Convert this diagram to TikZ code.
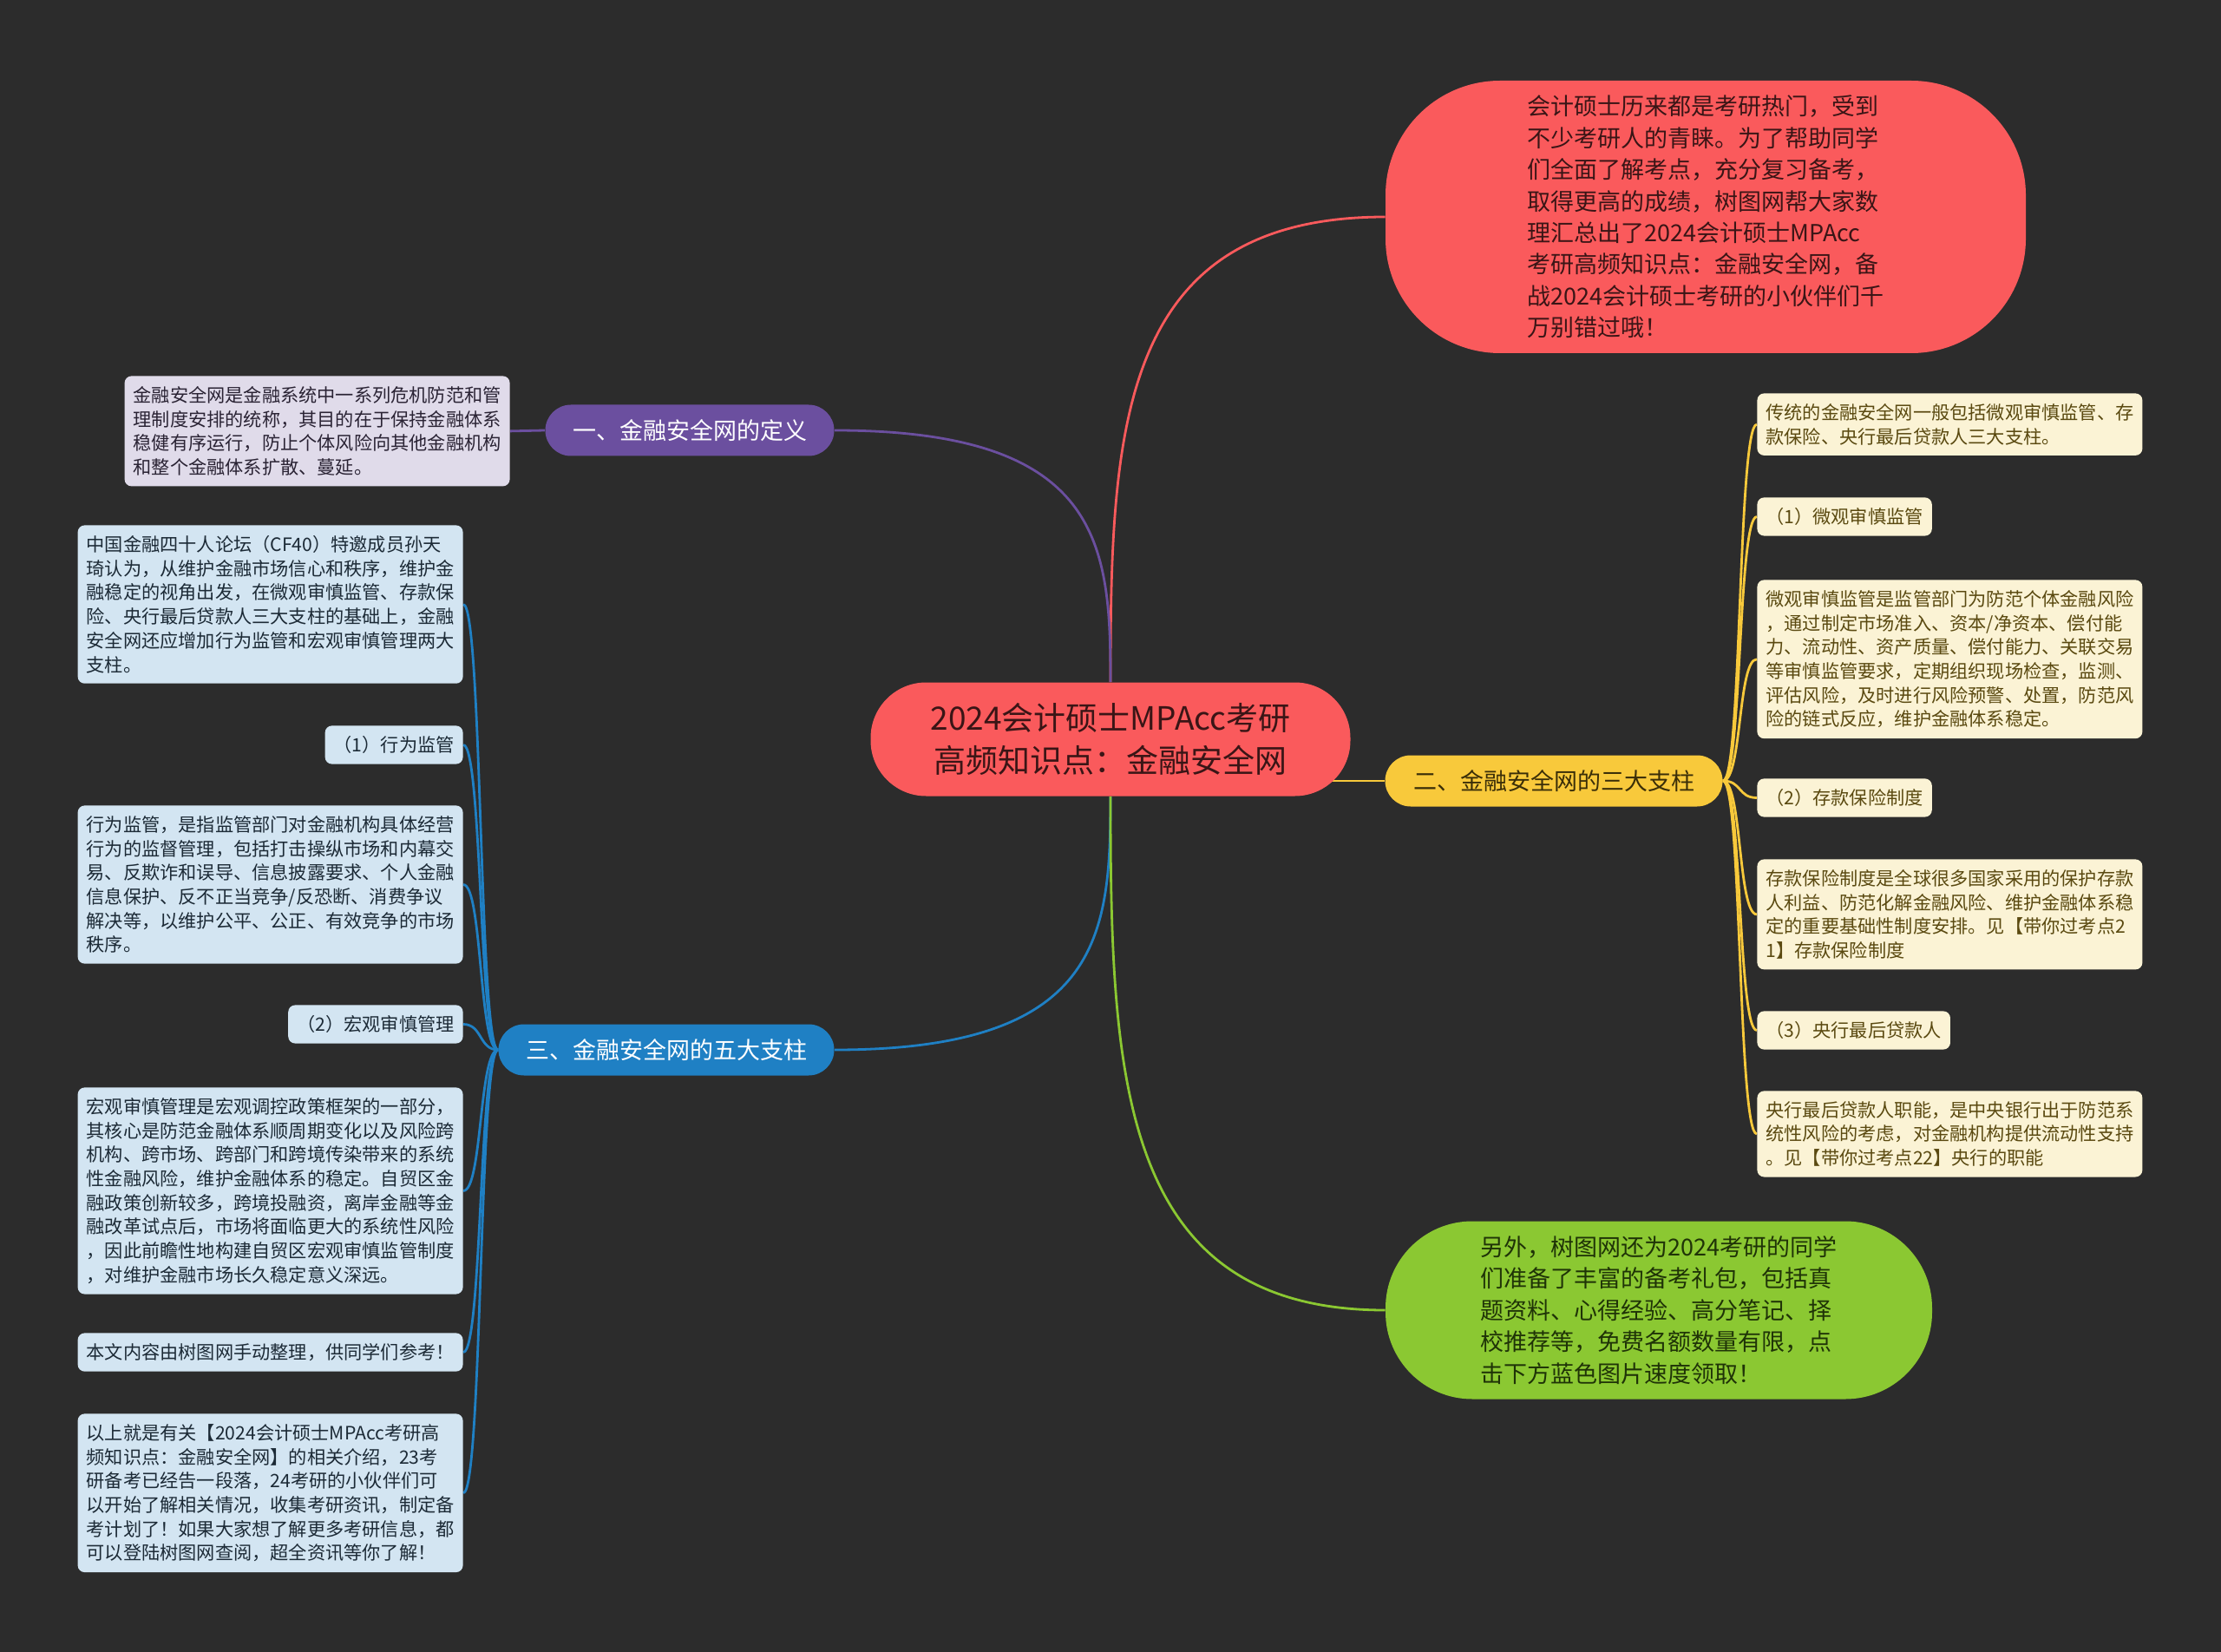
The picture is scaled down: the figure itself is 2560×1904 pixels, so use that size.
\documentclass[tikz,border=0pt]{standalone}
\usepackage{fontspec}
\setmainfont{Noto Sans CJK SC}
\usepackage{xcolor}
\usepackage{tikz}
\pgfdeclarelayer{bg}
\pgfsetlayers{bg,main}
\definecolor{canvas}{HTML}{2C2C2C}
\definecolor{rootred}{HTML}{FA5A5C}
\definecolor{rootink}{HTML}{3A1516}
\definecolor{violet1}{HTML}{6B4F9F}
\definecolor{gold1}{HTML}{F8C93B}
\definecolor{goldink}{HTML}{3A2E08}
\definecolor{azure1}{HTML}{1F80C4}
\definecolor{lime1}{HTML}{8BC832}
\definecolor{limeink}{HTML}{1F3307}
\definecolor{goldleaf}{HTML}{FBF3D5}
\definecolor{goldtext}{HTML}{5A4910}
\definecolor{blueleaf}{HTML}{D3E5F2}
\definecolor{bluetext}{HTML}{1C2A36}
\definecolor{violetleaf}{HTML}{E0DBEA}
\definecolor{violettext}{HTML}{2A2334}

\begin{document}
\begin{tikzpicture}[x=0.5pt,y=-0.5pt,
  root/.style={fill=rootred,text=rootink,rounded corners=32pt,minimum width=276.5pt,minimum height=65.5pt,align=center,font=\fontsize{18.5}{24.5}\selectfont},
  topic/.style={rounded corners=14.75pt,minimum height=29.5pt,font=\fontsize{13.5}{18}\selectfont},
  bubble/.style={align=left,font=\fontsize{13.5}{18.2}\selectfont},
  leaf/.style={rounded corners=4pt,inner xsep=5pt,inner ysep=6pt,align=left,font=\fontsize{10.6}{13.85}\selectfont},
  wide/.style={leaf,text width=212pt},
  link/.style={line width=1.4pt}]
  \useasboundingbox (0,0) rectangle (2560,1904);
  \node[root] (root) at (1280,852) {2024会计硕士MPAcc考研\\高频知识点：金融安全网};
  \node[topic,fill=violet1,text=white,minimum width=166.5pt] (k1) at (795,496) {一、金融安全网的定义};
  \node[topic,fill=gold1,text=goldink,minimum width=194.5pt] (k2) at (1791,900) {二、金融安全网的三大支柱};
  \node[topic,fill=azure1,text=white,minimum width=193.5pt] (k3) at (768,1210) {三、金融安全网的五大支柱};
  \node[bubble,fill=rootred,text=rootink,rounded corners=66pt,minimum width=369pt,minimum height=157pt] (top) at (1966,250) {会计硕士历来都是考研热门，受到\\不少考研人的青睐。为了帮助同学\\们全面了解考点，充分复习备考，\\取得更高的成绩，树图网帮大家数\\理汇总出了2024会计硕士MPAcc\\考研高频知识点：金融安全网，备\\战2024会计硕士考研的小伙伴们千\\万别错过哦！};
  \node[bubble,fill=lime1,text=limeink,rounded corners=50pt,minimum width=315pt,minimum height=102.5pt] (bot) at (1912,1510) {另外，树图网还为2024考研的同学\\们准备了丰富的备考礼包，包括真\\题资料、心得经验、高分笔记、择\\校推荐等，免费名额数量有限，点\\击下方蓝色图片速度领取！};

  \node[wide,fill=violetleaf,text=violettext,anchor=north east] (k1a) at (588,433) {金融安全网是金融系统中一系列危机防范和管\\理制度安排的统称，其目的在于保持金融体系\\稳健有序运行，防止个体风险向其他金融机构\\和整个金融体系扩散、蔓延。};

  \node[wide,fill=goldleaf,text=goldtext,anchor=north west] (k2a) at (2025,453) {传统的金融安全网一般包括微观审慎监管、存\\款保险、央行最后贷款人三大支柱。};
  \node[leaf,fill=goldleaf,text=goldtext,anchor=north west] (k2b) at (2025,573) {（1）微观审慎监管};
  \node[wide,fill=goldleaf,text=goldtext,anchor=north west] (k2c) at (2025,668) {微观审慎监管是监管部门为防范个体金融风险\\，通过制定市场准入、资本/净资本、偿付能\\力、流动性、资产质量、偿付能力、关联交易\\等审慎监管要求，定期组织现场检查，监测、\\评估风险，及时进行风险预警、处置，防范风\\险的链式反应，维护金融体系稳定。};
  \node[leaf,fill=goldleaf,text=goldtext,anchor=north west] (k2d) at (2025,897) {（2）存款保险制度};
  \node[wide,fill=goldleaf,text=goldtext,anchor=north west] (k2e) at (2025,990) {存款保险制度是全球很多国家采用的保护存款\\人利益、防范化解金融风险、维护金融体系稳\\定的重要基础性制度安排。见【带你过考点2\\1】存款保险制度};
  \node[leaf,fill=goldleaf,text=goldtext,anchor=north west] (k2f) at (2025,1165) {（3）央行最后贷款人};
  \node[wide,fill=goldleaf,text=goldtext,anchor=north west] (k2g) at (2025,1257) {央行最后贷款人职能，是中央银行出于防范系\\统性风险的考虑，对金融机构提供流动性支持\\。见【带你过考点22】央行的职能};

  \node[wide,fill=blueleaf,text=bluetext,anchor=north east] (k3a) at (534,605) {中国金融四十人论坛（CF40）特邀成员孙天\\琦认为，从维护金融市场信心和秩序，维护金\\融稳定的视角出发，在微观审慎监管、存款保\\险、央行最后贷款人三大支柱的基础上，金融\\安全网还应增加行为监管和宏观审慎管理两大\\支柱。};
  \node[leaf,fill=blueleaf,text=bluetext,anchor=north east] (k3b) at (534,836) {（1）行为监管};
  \node[wide,fill=blueleaf,text=bluetext,anchor=north east] (k3c) at (534,928) {行为监管，是指监管部门对金融机构具体经营\\行为的监督管理，包括打击操纵市场和内幕交\\易、反欺诈和误导、信息披露要求、个人金融\\信息保护、反不正当竞争/反恐断、消费争议\\解决等，以维护公平、公正、有效竞争的市场\\秩序。};
  \node[leaf,fill=blueleaf,text=bluetext,anchor=north east] (k3d) at (534,1158) {（2）宏观审慎管理};
  \node[wide,fill=blueleaf,text=bluetext,anchor=north east] (k3e) at (534,1253) {宏观审慎管理是宏观调控政策框架的一部分，\\其核心是防范金融体系顺周期变化以及风险跨\\机构、跨市场、跨部门和跨境传染带来的系统\\性金融风险，维护金融体系的稳定。自贸区金\\融政策创新较多，跨境投融资，离岸金融等金\\融改革试点后，市场将面临更大的系统性风险\\，因此前瞻性地构建自贸区宏观审慎监管制度\\，对维护金融市场长久稳定意义深远。};
  \node[wide,fill=blueleaf,text=bluetext,anchor=north east] (k3f) at (534,1536) {本文内容由树图网手动整理，供同学们参考！};
  \node[wide,fill=blueleaf,text=bluetext,anchor=north east] (k3g) at (534,1629) {以上就是有关【2024会计硕士MPAcc考研高\\频知识点：金融安全网】的相关介绍，23考\\研备考已经告一段落，24考研的小伙伴们可\\以开始了解相关情况，收集考研资讯，制定备\\考计划了！如果大家想了解更多考研信息，都\\可以登陆树图网查阅，超全资讯等你了解！};

  \begin{pgfonlayer}{bg}
    \fill[canvas] (0,0) rectangle (2560,1904);
    \draw[link,rootred] (root.north) .. controls (1280,492) and (1290,250) .. (top.west);
    \draw[link,violet1] (root.north) .. controls (1280,627) and (1270,496) .. (k1.east);
    \draw[link,azure1] (root.south) .. controls (1280,1078) and (1270,1210) .. (k3.east);
    \draw[link,lime1] (root.south) .. controls (1280,1243) and (1290,1510) .. (bot.west);
    \draw[link,gold1] (root.center |- k2.west) -- (k2.west);
    \draw[link,violet1] (k1.west) -- (k1a.east);
    \draw[link,gold1] (k2.east) .. controls +(22,0) and +(-22,0) .. (k2a.west);
    \draw[link,gold1] (k2.east) .. controls +(22,0) and +(-22,0) .. (k2b.west);
    \draw[link,gold1] (k2.east) .. controls +(22,0) and +(-22,0) .. (k2c.west);
    \draw[link,gold1] (k2.east) .. controls +(22,0) and +(-22,0) .. (k2d.west);
    \draw[link,gold1] (k2.east) .. controls +(22,0) and +(-22,0) .. (k2e.west);
    \draw[link,gold1] (k2.east) .. controls +(22,0) and +(-22,0) .. (k2f.west);
    \draw[link,gold1] (k2.east) .. controls +(22,0) and +(-22,0) .. (k2g.west);
    \draw[link,azure1] (k3.west) .. controls +(-22,0) and +(22,0) .. (k3a.east);
    \draw[link,azure1] (k3.west) .. controls +(-22,0) and +(22,0) .. (k3b.east);
    \draw[link,azure1] (k3.west) .. controls +(-22,0) and +(22,0) .. (k3c.east);
    \draw[link,azure1] (k3.west) .. controls +(-22,0) and +(22,0) .. (k3d.east);
    \draw[link,azure1] (k3.west) .. controls +(-22,0) and +(22,0) .. (k3e.east);
    \draw[link,azure1] (k3.west) .. controls +(-22,0) and +(22,0) .. (k3f.east);
    \draw[link,azure1] (k3.west) .. controls +(-22,0) and +(22,0) .. (k3g.east);
  \end{pgfonlayer}
\end{tikzpicture}
\end{document}
